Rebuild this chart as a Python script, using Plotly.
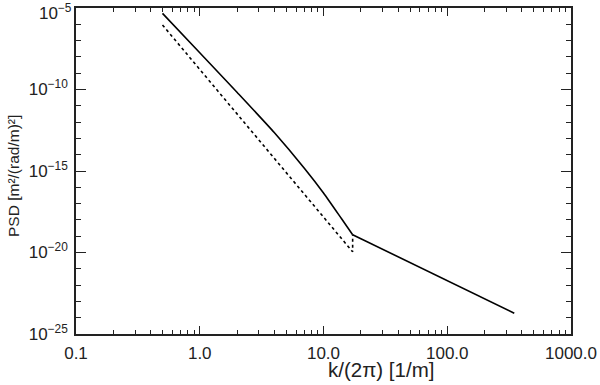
import plotly.graph_objects as go

# curva cheia (k/(2pi) em 1/m, PSD): parte curva ate o joelho, depois reta
k_solid = [0.5, 1.0, 2.0, 4.0, 7.0, 10.0, 14.0, 17.2]
psd_solid = [4.7e-6, 1.8e-8, 6.8e-11, 2.3e-13, 1.48e-15, 4.5e-17, 1.17e-18, 1.23e-19]
k_tail = [17.2, 348.0]
psd_tail = [1.23e-19, 1.9e-24]

# curva pontilhada (com o trecho vertical no joelho)
k_dot = [0.5, 17.2, 17.2]
psd_dot = [9.1e-7, 1.1e-20, 1.23e-19]

x_ticks = [0.1, 1, 10, 100, 1000]
x_ticktext = ['0.1', '1.0', '10.0', '100.0', '1000.0']
y_ticks = [1e-5, 1e-10, 1e-15, 1e-20, 1e-25]
# o rotulo de 10^-5 vai como anotacao (senao fica cortado no topo)
y_ticktext = ['', '10<sup>−10</sup>', '10<sup>−15</sup>', '10<sup>−20</sup>', '10<sup>−25</sup>']
y_top_label = '10<sup>−5</sup>'

fig = go.Figure()
fig.add_trace(go.Scatter(x=k_solid, y=psd_solid, mode='lines',
                         line=dict(color='black', width=1.6, shape='spline', smoothing=0.6)))
fig.add_trace(go.Scatter(x=k_tail, y=psd_tail, mode='lines',
                         line=dict(color='black', width=1.6)))
fig.add_trace(go.Scatter(x=k_dot, y=psd_dot, mode='lines',
                         line=dict(color='black', width=1.6, dash='dot')))

axis_common = dict(showline=True, linecolor='#222', linewidth=1.5, mirror='allticks',
                   ticks='inside', tickcolor='#222', tickwidth=1.2, showgrid=False,
                   zeroline=False, automargin=False, ticklabeloverflow='allow')

fig.update_layout(
    width=600, height=385,
    margin=dict(l=76, r=29, t=8, b=51),
    paper_bgcolor='white', plot_bgcolor='white',
    showlegend=False,
    font=dict(family='Liberation Sans, Arial, sans-serif', size=17, color='#222'),
    xaxis=dict(type='log', range=[-1, 3], tickvals=x_ticks, ticktext=x_ticktext,
               ticklen=8, ticklabelstandoff=3,
               minor=dict(dtick='D1', ticks='inside', ticklen=4, tickcolor='#222', tickwidth=1),
               **axis_common),
    yaxis=dict(type='log', range=[-25, -5], tickvals=y_ticks, ticktext=y_ticktext,
               ticklen=10, ticklabelstandoff=3,
               minor=dict(dtick=1, ticks='inside', ticklen=5, tickcolor='#222', tickwidth=1),
               **axis_common),
    annotations=[
        dict(text=y_top_label, xref='paper', yref='paper', x=0, y=1,
             xanchor='right', yanchor='top', xshift=-3, yshift=8, showarrow=False,
             borderpad=0, font=dict(size=17)),
        dict(text='k/(2π) [1/m]', xref='paper', yref='paper', x=0.617, y=-0.108,
             xanchor='center', yanchor='middle', showarrow=False, font=dict(size=20.5)),
        dict(text='PSD [m²/(rad/m)²]', xref='paper', yref='paper', x=-0.125, y=0.485,
             xanchor='center', yanchor='middle', textangle=-90, showarrow=False,
             font=dict(size=15.5)),
    ],
)

# sem margem do body, para a figura ocupar a janela inteira
fig.write_html('out.html', config={'displayModeBar': False},
               post_script="document.body.style.margin='0';")
